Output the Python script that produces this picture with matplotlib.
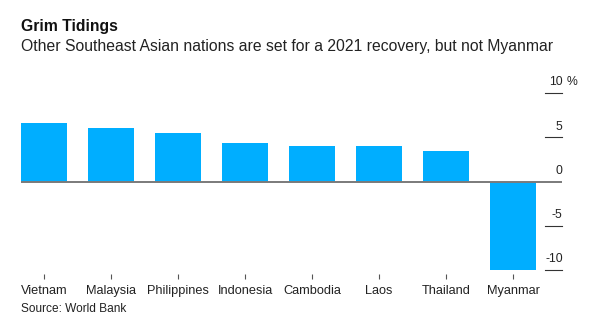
import matplotlib
matplotlib.use("Agg")
import matplotlib.pyplot as plt
import matplotlib.transforms as mtransforms

plt.rcParams["font.family"] = ["Liberation Sans", "DejaVu Sans"]

countries = ["Vietnam", "Malaysia", "Philippines", "Indonesia", "Cambodia",
             "Laos", "Thailand", "Myanmar"]
growth_2021 = [6.6, 6.0, 5.5, 4.4, 4.0, 4.0, 3.4, -10.0]
y_ticks = [10, 5, 0, -5, -10]

bar_color = "#00aeff"
text_color = "#222222"

fig = plt.figure(figsize=(5.93, 3.24), dpi=100)
ax = fig.add_axes([21 / 593, 54 / 324, 541 / 593, 177 / 324])

x = range(len(countries))
ax.bar(x, growth_2021, width=0.69, color=bar_color, zorder=2)

ax.set_xlim(-0.345, 7.73)
ax.set_ylim(-10, 10)

# zero line across the whole plot
ax.axhline(0, color="#7a7a7a", lw=1.4, zorder=3)

# short grid stubs on the right, labels sitting on top of them
blend = mtransforms.blended_transform_factory(ax.transAxes, ax.transData)
for v in y_ticks:
    if v != 0:
        ax.plot([0.9686, 1.0], [v, v], transform=blend, color="#333333",
                lw=0.8, clip_on=False, zorder=3)
    ax.annotate(str(v), xy=(1.0, v), xycoords=blend, xytext=(0.5, 5.5),
                textcoords="offset points", ha="right", va="baseline",
                fontsize=8.8, color=text_color)
ax.annotate("%", xy=(1.0, 10), xycoords=blend, xytext=(3.0, 5.5),
            textcoords="offset points", ha="left", va="baseline",
            fontsize=8.8, color=text_color)

for s in ["top", "right", "left"]:
    ax.spines[s].set_visible(False)
ax.spines["bottom"].set_position(("outward", 3))
ax.spines["bottom"].set_color("none")

ax.set_yticks([])
ax.set_xticks(list(x))
ax.set_xticklabels(countries, fontsize=9.2, color=text_color)
ax.tick_params(axis="x", length=3.6, width=0.8, color="#555555", pad=4)

fig.text(21 / 593, 1 - 31 / 324, "Grim Tidings", fontsize=11.3,
         fontweight="bold", color="#111111", va="baseline")
fig.text(21 / 593, 1 - 51 / 324,
         "Other Southeast Asian nations are set for a 2021 recovery, but not Myanmar",
         fontsize=11.3, color=text_color, va="baseline")
fig.text(21 / 593, 1 - 312 / 324, "Source: World Bank", fontsize=8.6,
         color=text_color, va="baseline")

fig.savefig("out.png", dpi=100)
